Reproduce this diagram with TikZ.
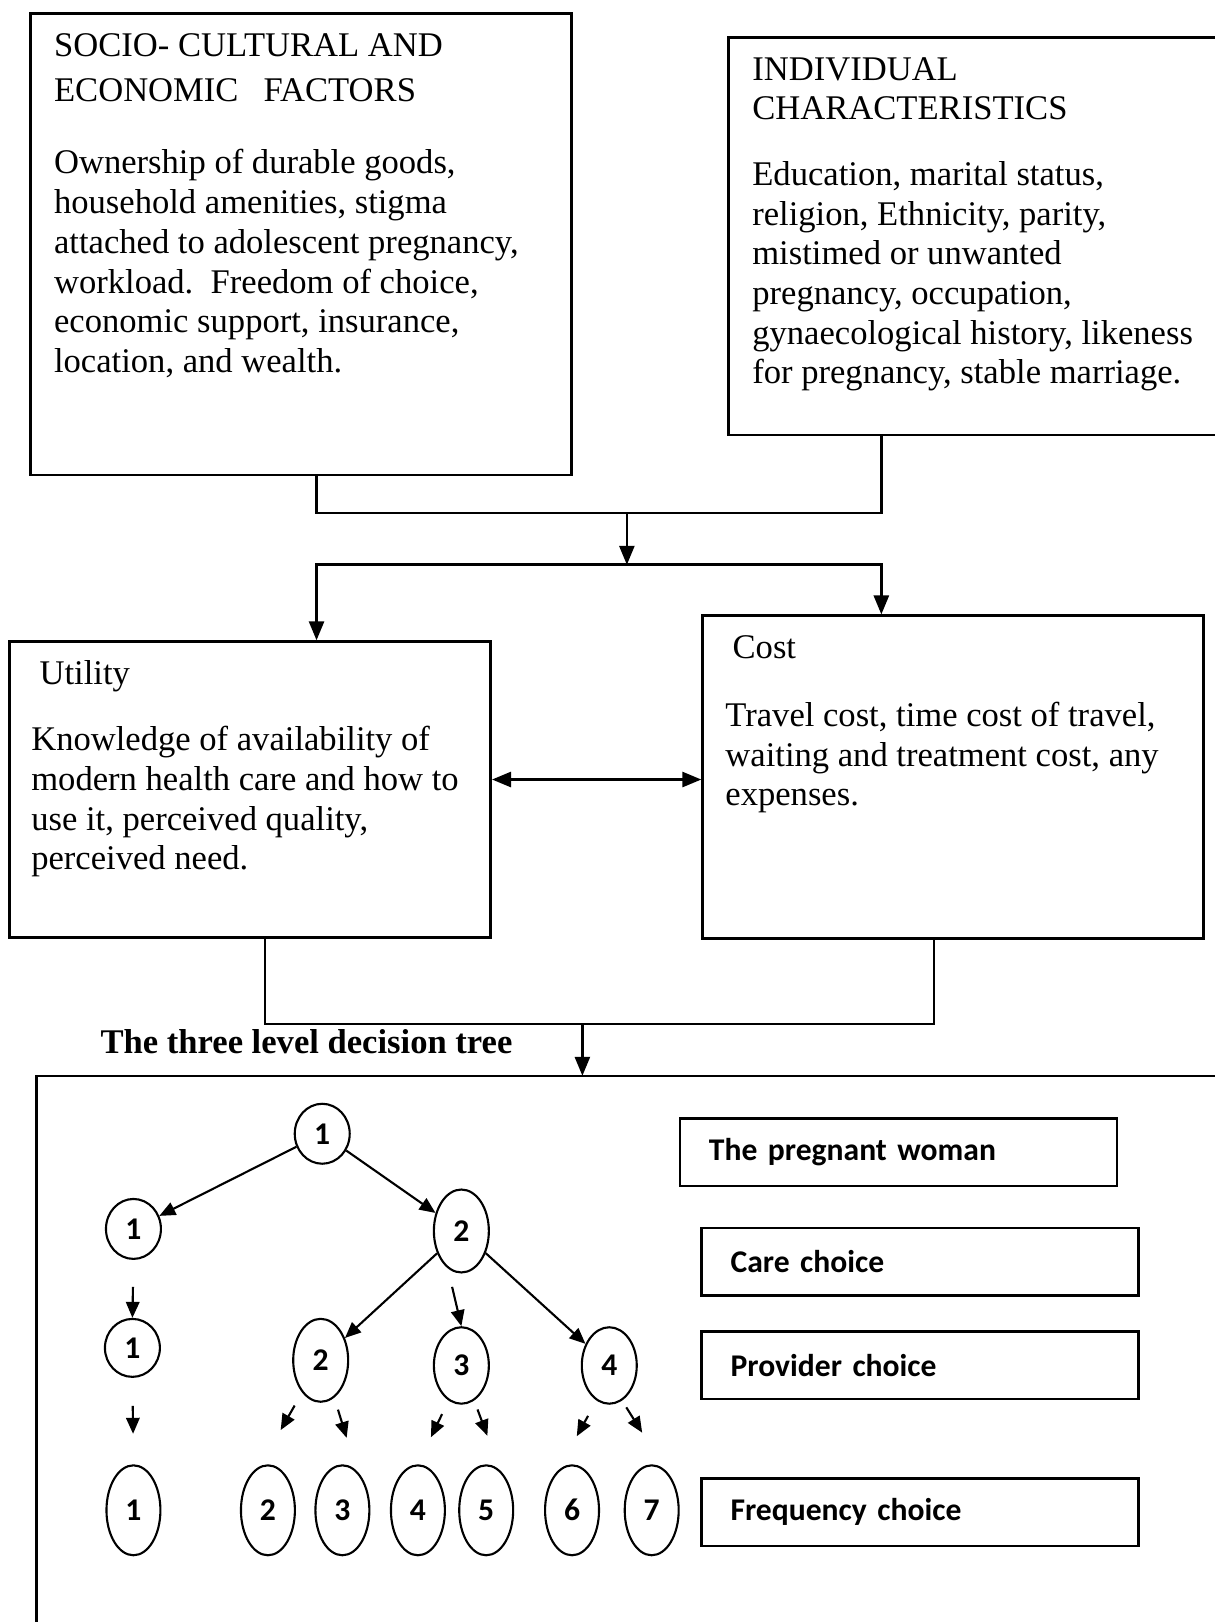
\documentclass[tikz,border=0pt]{standalone}
\usepackage{fontspec}
\setmainfont{Liberation Serif}
\newfontfamily\calfont{Carlito}
\usepackage{tikz}
\usetikzlibrary{positioning,calc,arrows.meta,shapes.geometric}

\begin{document}
\begin{tikzpicture}[x=0.0207cm, y=-0.0207cm, line width=1.5pt,
    >={Triangle[length=0.38cm,width=0.3cm]},
    box/.style={draw, anchor=north west, inner sep=0pt},
    openbox/.style={anchor=north west, inner sep=0pt},
    txt/.style={anchor=base west, align=left, inner sep=0pt,
      font=\fontsize{19.7}{22.6}\selectfont},
    bold/.style={txt, font=\fontsize{19.7}{22.6}\selectfont\bfseries},
    oval/.style={draw, ellipse, line width=1.2pt, inner sep=0pt,
      minimum width=1.1cm, font=\calfont\bfseries\fontsize{18}{18}\selectfont},
    lbox/.style={draw, anchor=north west, minimum height=1.35cm, inner xsep=0.58cm,
      text width=7.59cm, align=left, font=\calfont\bfseries\fontsize{18}{18}\selectfont},
    tip/.style={->, >={Triangle[length=0.32cm,width=0.27cm]}, line width=1.2pt}]
  \useasboundingbox (0,0) rectangle (1174,1568);

  % the two top boxes (texts placed by their last baseline)
  \node[box, minimum width=10.83cm, minimum height=9.23cm] (socio) at (28,12) {};
  \node[openbox, minimum width=9.73cm, minimum height=7.91cm] (indiv) at (704,36) {};
  \draw (indiv.north east) -- (indiv.north west) -- (indiv.south west) -- (indiv.south east);

  \node[txt] (socio-head) at (51,98) {SOCIO- CULTURAL AND\\[2.7pt]ECONOMIC\hspace{0.5cm}FACTORS};
  \node[txt] (socio-body) at (51,360) {Ownership of durable goods,\\household amenities, stigma\\attached to adolescent pregnancy,\\workload.\ \ Freedom of choice,\\economic support, insurance,\\location, and wealth.};
  \node[txt] (indiv-head) at (726,116) {INDIVIDUAL\\CHARACTERISTICS};
  \node[txt] (indiv-body) at (726,371) {Education, marital status,\\religion, Ethnicity, parity,\\mistimed or unwanted\\pregnancy, occupation,\\gynaecological history, likeness\\for pregnancy, stable marriage.};

  % utility and cost
  \node[box, minimum width=9.63cm, minimum height=5.92cm] (util) at (8,619) {};
  \node[box, minimum width=10.02cm, minimum height=6.46cm] (cost) at (678,594) {};

  \node[txt] (util-head) at (37,662) {Utility};
  \node[txt] (util-body) at (29,841) {Knowledge of availability of\\modern health care and how to\\use it, perceived quality,\\perceived need.};
  \node[txt] (cost-head) at (707,637) {Cost};
  \node[txt] (cost-body) at (700,779) {Travel cost, time cost of travel,\\waiting and treatment cost, any\\expenses.};

  \coordinate (jl) at (306,496);
  \coordinate (jr) at (852,496);
  \coordinate (split) at (606,546);
  \draw (socio.south -| jl) -- (jl) -- (jr) -- (indiv.south -| jr);
  \draw[->] (split |- jl) -- (split);
  \draw[->] (split) -| (util.north -| jl);
  \draw[->] (split) -| (cost.north -| jr);
  \draw[<->] ([yshift=0.2cm]util.east) -- ([yshift=0.2cm]util.east -| cost.west);

  % decision tree box
  \node[openbox, minimum width=23.58cm, minimum height=10.93cm] (tree) at (35,1040) {};
  \draw (tree.north east) -- (tree.north west) -- (tree.south west);
  \node[bold] (tree-title) at (96,1018) {The three level decision tree};

  \coordinate (ml) at (256,990);
  \coordinate (mr) at (903,990);
  \coordinate (merge) at (563,990);
  \draw (util.south -| ml) -- (ml) -- (mr) -- (cost.south -| mr);
  \draw[->] (merge) -- (merge |- tree.north);

  % levels
  \node[oval, minimum height=1.2cm] (r) at (311.5,1096) {1};
  \node[oval, minimum height=1.2cm] (b1) at (129,1188) {1};
  \node[oval, minimum height=1.66cm] (b2) at (446,1190) {2};
  \node[oval, minimum height=1.16cm] (c1) at (128,1303) {1};
  \node[oval, minimum height=1.66cm] (c2) at (310,1315) {2};
  \node[oval, minimum height=1.53cm] (c3) at (446,1320) {3};
  \node[oval, minimum height=1.53cm] (c4) at (589,1320) {4};
  \foreach \n/\x in {1/129,2/259,3/331,4/404,5/470,6/553,7/630}
    \node[oval, minimum width=1.08cm, minimum height=1.8cm] (d\n) at (\x,1460) {\n};

  \draw[tip] (r) -- (b1);
  \draw[tip] (r) -- (b2);
  \draw[tip] (b2) -- (c2);
  \draw[tip] (b2) -- (c4);
  \draw[tip, shorten <=0.54cm] (b1.south) -- (c1.north);
  \draw[tip, shorten <=0.38cm] (b2.250) -- (c3.north);
  \draw[tip, shorten <=0.56cm, shorten >=0.61cm] (c1.south) -- (d1.north);
  \draw[tip, shorten <=0.30cm, shorten >=0.83cm] (c2.240) -- (d2.100);
  \draw[tip, shorten <=0.25cm, shorten >=0.69cm] (c2.290) -- (d3.70);
  \draw[tip, shorten <=0.30cm, shorten >=0.60cm] (c3.250) -- (d4.north);
  \draw[tip, shorten <=0.19cm, shorten >=0.75cm] (c3.290) -- (d5.70);
  \draw[tip, shorten <=0.35cm, shorten >=0.79cm] (c4.250) -- (d6.110);
  \draw[tip, shorten <=0.16cm, shorten >=0.90cm] (c4.290) -- (d7.70);

  % level labels
  \node[lbox] (woman) at (656,1080) {The pregnant woman};
  \node[lbox] (care) at (677,1186) {Care choice};
  \node[lbox] (provider) at (677,1286) {Provider choice};
  \node[lbox] (freq) at (677,1428) {Frequency choice};
\end{tikzpicture}
\end{document}
